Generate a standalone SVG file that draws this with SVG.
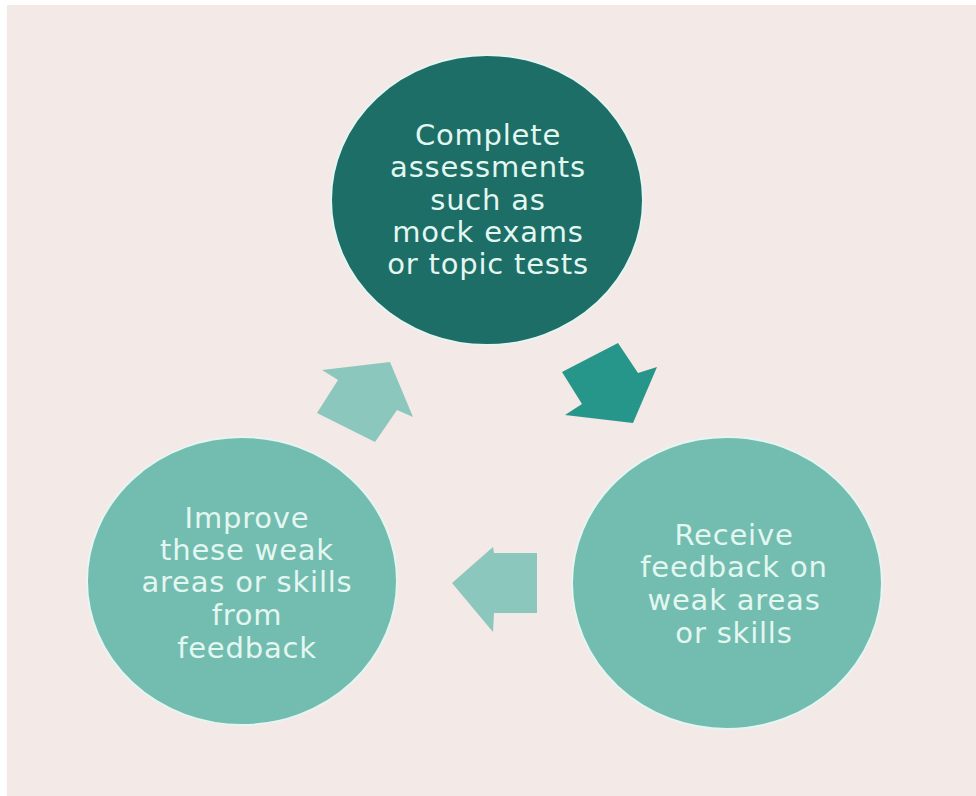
<svg xmlns="http://www.w3.org/2000/svg" width="976" height="796" viewBox="0 0 976 796">
<style>
.lbl{font-family:"DejaVu Sans","Liberation Sans",sans-serif;font-size:29px;letter-spacing:0.8px;fill:#e3f7f1;text-anchor:middle}
.node{stroke:#e6f5f1;stroke-width:2}
</style>
<rect x="0" y="0" width="976" height="796" fill="#ffffff"/>
<rect x="7" y="5" width="969" height="791" fill="#f3e9e6"/>
<g id="connectors">
<polygon id="arrow-top-right" points="562,372 618,343 638,373 657,367 633,423 565,415 582,404" fill="#27968a"/>
<polygon id="arrow-bottom" points="452,583 493,547 494,553 537,553 537,613 494,613 493,632" fill="#8bc7bd"/>
<polygon id="arrow-top-left" points="322,370 390,362 413,417 397,410 375,442 317,413 338,380" fill="#8bc7bd"/>
</g>
<g id="node-assess">
<ellipse class="node" cx="487" cy="200" rx="156" ry="145" fill="#1c6e66"/>
<text class="lbl" x="488" y="145">Complete</text>
<text class="lbl" x="488" y="177">assessments</text>
<text class="lbl" x="488" y="210">such as</text>
<text class="lbl" x="488" y="242">mock exams</text>
<text class="lbl" x="488" y="274">or topic tests</text>
</g>
<g id="node-feedback">
<ellipse class="node" cx="727" cy="583" rx="155" ry="146" fill="#73bcb0"/>
<text class="lbl" x="734" y="545">Receive</text>
<text class="lbl" x="734" y="577">feedback on</text>
<text class="lbl" x="734" y="610">weak areas</text>
<text class="lbl" x="734" y="643">or skills</text>
</g>
<g id="node-improve">
<ellipse class="node" cx="242" cy="581" rx="155" ry="144" fill="#73bcb0"/>
<text class="lbl" x="247" y="528">Improve</text>
<text class="lbl" x="247" y="560">these weak</text>
<text class="lbl" x="247" y="592">areas or skills</text>
<text class="lbl" x="247" y="625">from</text>
<text class="lbl" x="247" y="658">feedback</text>
</g>
</svg>
